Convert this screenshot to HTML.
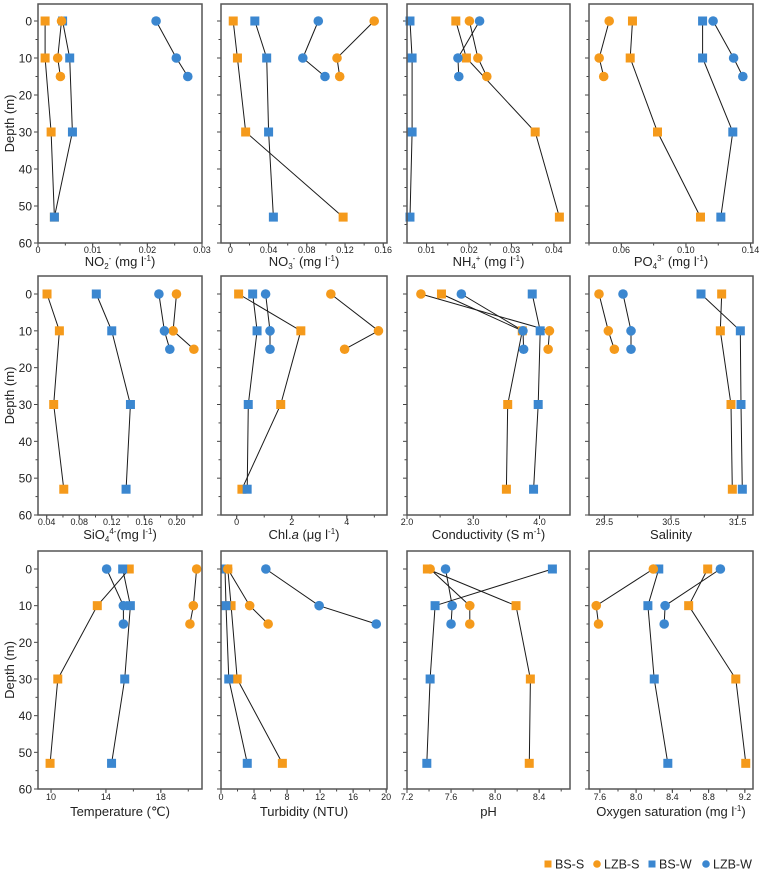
<!DOCTYPE html>
<html><head><meta charset="utf-8">
<style>
body{margin:0;background:#fff;}
svg{display:block;font-family:"Liberation Sans",Arial,sans-serif;}
</style></head>
<body>
<svg id="chart" width="767" height="875" viewBox="0 0 767 875"></svg>
<script>
const depthsBS = [0, 10, 30, 53];
const depthsLZB = [0, 10, 15];
const yTicks = [0, 10, 20, 30, 40, 50, 60];

const no2BSS = [0.0013, 0.0013, 0.0024, 0.003];
const no2BSW = [0.0045, 0.0058, 0.0063, 0.003];
const no2LZBS = [0.0043, 0.0036, 0.0041];
const no2LZBW = [0.0216, 0.0253, 0.0274];

const no3BSS = [0.003, 0.0074, 0.016, 0.118];
const no3BSW = [0.0256, 0.038, 0.040, 0.045];
const no3LZBS = [0.1505, 0.1116, 0.1144];
const no3LZBW = [0.092, 0.0758, 0.099];

const nh4BSS = [0.0169, 0.0194, 0.0356, 0.0413];
const nh4BSW = [0.0061, 0.0066, 0.0066, 0.0061];
const nh4LZBS = [0.0201, 0.0221, 0.0242];
const nh4LZBW = [0.0225, 0.0174, 0.0176];

const po4BSS = [0.0669, 0.0655, 0.0824, 0.109];
const po4BSW = [0.1103, 0.1103, 0.129, 0.1216];
const po4LZBS = [0.0525, 0.0463, 0.0491];
const po4LZBW = [0.1168, 0.1295, 0.1352];

const sio4BSS = [0.0404, 0.0556, 0.0486, 0.061];
const sio4BSW = [0.101, 0.120, 0.143, 0.1376];
const sio4LZBS = [0.1996, 0.1955, 0.221];
const sio4LZBW = [0.178, 0.1848, 0.1914];

const chlBSS = [0.07, 2.33, 1.6, 0.19];
const chlBSW = [0.58, 0.74, 0.42, 0.38];
const chlLZBS = [3.42, 5.15, 3.92];
const chlLZBW = [1.05, 1.21, 1.21];

const condBSS = [2.52, 3.74, 3.52, 3.50];
const condBSW = [3.89, 4.01, 3.98, 3.91];
const condLZBS = [2.21, 4.15, 4.13];
const condLZBW = [2.82, 3.75, 3.76];

const salBSS = [31.26, 31.24, 31.40, 31.42];
const salBSW = [30.95, 31.54, 31.55, 31.57];
const salLZBS = [29.42, 29.56, 29.65];
const salLZBW = [29.78, 29.90, 29.90];

const tempBSS = [15.7, 13.37, 10.49, 9.93];
const tempBSW = [15.22, 15.78, 15.37, 14.41];
const tempLZBS = [20.61, 20.37, 20.12];
const tempLZBW = [14.05, 15.27, 15.27];

const turbBSS = [0.82, 1.22, 1.96, 7.43];
const turbBSW = [0.49, 0.61, 0.94, 3.18];
const turbLZBS = [0.82, 3.47, 5.71];
const turbLZBW = [5.43, 11.88, 18.8];

const phBSS = [7.385, 8.19, 8.32, 8.31];
const phBSW = [8.52, 7.455, 7.41, 7.38];
const phLZBS = [7.41, 7.77, 7.77];
const phLZBW = [7.55, 7.61, 7.60];

const o2BSS = [8.79, 8.58, 9.10, 9.21];
const o2BSW = [8.25, 8.13, 8.20, 8.35];
const o2LZBS = [8.19, 7.56, 7.585];
const o2LZBW = [8.93, 8.32, 8.31];

const no2Ticks = ["0", "0.01", "0.02", "0.03"];
const no3Ticks = ["0", "0.04", "0.08", "0.12", "0.16"];
const nh4Ticks = ["0.01", "0.02", "0.03", "0.04"];
const po4Ticks = ["0.06", "0.10", "0.14"];
const sio4Ticks = ["0.04", "0.08", "0.12", "0.16", "0.20"];
const chlTicks = ["0", "2", "4"];
const condTicks = ["2.0", "3.0", "4.0"];
const salTicks = ["29.5", "30.5", "31.5"];
const tempTicks = ["10", "14", "18"];
const turbTicks = ["0", "4", "8", "12", "16", "20"];
const phTicks = ["7.2", "7.6", "8.0", "8.4"];
const o2Ticks = ["7.6", "8.0", "8.4", "8.8", "9.2"];

const ORANGE = "#F59A1B", BLUE = "#3B87D0";
const NS = "http://www.w3.org/2000/svg";
const svg = document.getElementById("chart");
function el(tag, attrs, parent) {
  const e = document.createElementNS(NS, tag);
  for (const k in attrs) e.setAttribute(k, attrs[k]);
  (parent || svg).appendChild(e);
  return e;
}

const cols = [[38, 202], [221, 387], [407, 570], [589, 753]];
const rows = [
  {top: 4, bottom: 243, y0: 21, tickY: 253, titleY: 266},
  {top: 276, bottom: 515, y0: 294, tickY: 525, titleY: 539},
  {top: 551, bottom: 789, y0: 569, tickY: 800, titleY: 816}
];

const panels = [
  {name: "no2", r: 0, c: 0, dom: [0, 0.03], ticks: no2Ticks, minor: 0.005, title: ["NO", ["2", "sub"], ["-", "sup"], " (mg l", ["-1", "sup"], ")"], s: [no2BSS, no2BSW, no2LZBS, no2LZBW]},
  {name: "no3", r: 0, c: 1, dom: [-0.0098, 0.1639], ticks: no3Ticks, minor: 0.02, title: ["NO", ["3", "sub"], ["-", "sup"], " (mg l", ["-1", "sup"], ")"], s: [no3BSS, no3BSW, no3LZBS, no3LZBW]},
  {name: "nh4", r: 0, c: 2, dom: [0.0054, 0.0438], ticks: nh4Ticks, minor: 0.005, title: ["NH", ["4", "sub"], ["+", "sup"], " (mg l", ["-1", "sup"], ")"], s: [nh4BSS, nh4BSW, nh4LZBS, nh4LZBW]},
  {name: "po4", r: 0, c: 3, dom: [0.04, 0.1415], ticks: po4Ticks, minor: 0.02, title: ["PO", ["4", "sub"], ["3-", "sup"], " (mg l", ["-1", "sup"], ")"], s: [po4BSS, po4BSW, po4LZBS, po4LZBW]},
  {name: "sio4", r: 1, c: 0, dom: [0.0293, 0.231], ticks: sio4Ticks, minor: 0.02, title: ["SiO", ["4", "sub"], ["4-", "sup"], "(mg l", ["-1", "sup"], ")"], s: [sio4BSS, sio4BSW, sio4LZBS, sio4LZBW]},
  {name: "chl", r: 1, c: 1, dom: [-0.57, 5.46], ticks: chlTicks, minor: 1, title: ["Chl.", ["a", "it"], " (μg l", ["-1", "sup"], ")"], s: [chlBSS, chlBSW, chlLZBS, chlLZBW]},
  {name: "conductivity", r: 1, c: 2, dom: [2.0, 4.46], ticks: condTicks, minor: 0.5, title: ["Conductivity (S m", ["-1", "sup"], ")"], s: [condBSS, condBSW, condLZBS, condLZBW]},
  {name: "salinity", r: 1, c: 3, dom: [29.27, 31.73], ticks: salTicks, minor: 0.5, title: ["Salinity"], s: [salBSS, salBSW, salLZBS, salLZBW]},
  {name: "temperature", r: 2, c: 0, dom: [9.05, 21.0], ticks: tempTicks, minor: 2, title: ["Temperature (℃)"], s: [tempBSS, tempBSW, tempLZBS, tempLZBW]},
  {name: "turbidity", r: 2, c: 1, dom: [0, 20.1], ticks: turbTicks, minor: 2, title: ["Turbidity (NTU)"], s: [turbBSS, turbBSW, turbLZBS, turbLZBW]},
  {name: "ph", r: 2, c: 2, dom: [7.2, 8.68], ticks: phTicks, minor: 0.2, title: ["pH"], s: [phBSS, phBSW, phLZBS, phLZBW]},
  {name: "oxygen", r: 2, c: 3, dom: [7.48, 9.29], ticks: o2Ticks, minor: 0.2, title: ["Oxygen saturation (mg l", ["-1", "sup"], ")"], s: [o2BSS, o2BSW, o2LZBS, o2LZBW]}
];
const seriesInfo = [
  {key: "bs-s", color: ORANGE, shape: "square", depths: depthsBS},
  {key: "bs-w", color: BLUE, shape: "square", depths: depthsBS},
  {key: "lzb-s", color: ORANGE, shape: "circle", depths: depthsLZB},
  {key: "lzb-w", color: BLUE, shape: "circle", depths: depthsLZB}
];

panels.forEach(p => {
  const [x0, x1] = cols[p.c];
  const R = rows[p.r];
  const xs = v => x0 + (v - p.dom[0]) / (p.dom[1] - p.dom[0]) * (x1 - x0);
  const ys = d => R.y0 + d / 60 * (R.bottom - R.y0);
  const g = el("g", {});
  
  

  // y ticks
  for (let d = 0; d <= 60; d += 5) {
    const major = d % 10 === 0;
    el("line", {x1: x0 - (major ? 4 : 2.5), x2: x0, y1: ys(d), y2: ys(d), stroke: "#444", "stroke-width": 1}, g);
  }
  if (p.c === 0) {
    yTicks.forEach(d => {
      const t = el("text", {x: x0 - 6, y: ys(d) + 4.5, "text-anchor": "end", "font-size": 12, fill: "#222"}, g);
      t.textContent = d;
      
      
    });
    const yt = el("text", {x: 0, y: 0, transform: `translate(14,${(R.top + R.bottom) / 2}) rotate(-90)`, "text-anchor": "middle", "font-size": 13, fill: "#222"}, g);
    yt.textContent = "Depth (m)";
    
    
  }
  // x ticks: minor
  const lo = p.dom[0], hi = p.dom[1];
  const start = Math.ceil(lo / p.minor - 1e-6) * p.minor;
  for (let v = start; v <= hi + 1e-9; v += p.minor) {
    const px = xs(v);
    if (px < x0 - 0.5 || px > x1 + 0.5) continue;
    el("line", {x1: px, x2: px, y1: R.bottom, y2: R.bottom + 2.5, stroke: "#444", "stroke-width": 1}, g);
  }
  p.ticks.forEach(lbl => {
    const v = parseFloat(lbl);
    const px = xs(v);
    el("line", {x1: px, x2: px, y1: R.bottom, y2: R.bottom + 4, stroke: "#444", "stroke-width": 1}, g);
    const t = el("text", {x: px, y: R.tickY, "text-anchor": "middle", "font-size": 9, fill: "#222"}, g);
    t.textContent = lbl;
    
    
  });
  // title
  const tt = el("text", {x: (x0 + x1) / 2, y: R.titleY, "text-anchor": "middle", "font-size": 13, fill: "#222"}, g);
  
  
  p.title.forEach(part => {
    const ts = el("tspan", {}, tt);
    if (typeof part === "string") ts.textContent = part;
    else {
      ts.textContent = part[0];
      if (part[1] === "sub") { ts.setAttribute("font-size", 8); ts.setAttribute("dy", 3); }
      else if (part[1] === "sup") { ts.setAttribute("font-size", 8); ts.setAttribute("dy", -5); }
      else ts.setAttribute("font-style", "italic");
      const reset = el("tspan", {}, tt);
      if (part[1] === "sub") reset.setAttribute("dy", -3);
      if (part[1] === "sup") reset.setAttribute("dy", 5);
      reset.textContent = "\u200B";
    }
  });
  // lines
  seriesInfo.forEach((si, k) => {
    const vals = p.s[k];
    const pts = vals.map((v, i) => `${xs(v).toFixed(1)},${ys(si.depths[i]).toFixed(1)}`).join(" ");
    const pl = el("polyline", {points: pts, fill: "none", stroke: "#1a1a1a", "stroke-width": 1}, g);
    
    
  });
  // markers
  seriesInfo.forEach((si, k) => {
    p.s[k].forEach((v, i) => {
      const cx = xs(v), cy = ys(si.depths[i]);
      let m;
      if (si.shape === "square") m = el("rect", {x: cx - 4.5, y: cy - 4.5, width: 9, height: 9, fill: si.color}, g);
      else m = el("circle", {cx: cx, cy: cy, r: 4.8, fill: si.color}, g);
      
      
    });
  });
  // frame
  const fr = el("rect", {x: x0, y: R.top, width: x1 - x0, height: R.bottom - R.top, fill: "none", stroke: "#555", "stroke-width": 1.5}, g);
  
  
});

// legend
const legendItems = [
  {label: "BS-S", color: ORANGE, shape: "square", x: 548},
  {label: "LZB-S", color: ORANGE, shape: "circle", x: 597},
  {label: "BS-W", color: BLUE, shape: "square", x: 652},
  {label: "LZB-W", color: BLUE, shape: "circle", x: 706}
];
const lg = el("g", {});


legendItems.forEach(it => {
  const g = el("g", {}, lg);
  
  
  if (it.shape === "square") el("rect", {x: it.x - 3.5, y: 860.5, width: 7, height: 7, fill: it.color}, g);
  else el("circle", {cx: it.x, cy: 864, r: 3.8, fill: it.color}, g);
  const t = el("text", {x: it.x + 7, y: 868.5, "font-size": 12.5, fill: "#222"}, g);
  t.textContent = it.label;
});
</script>
</body></html>
